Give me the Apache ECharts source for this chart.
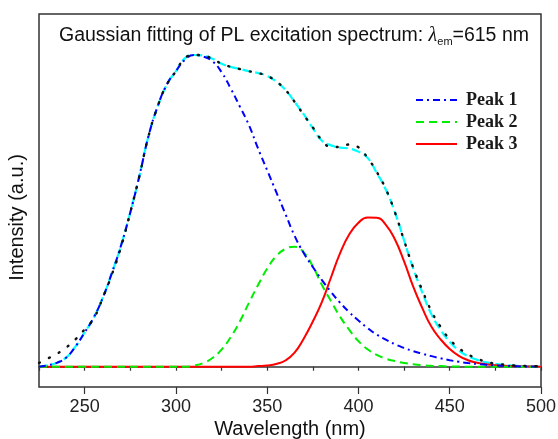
<!DOCTYPE html>
<html>
<head>
<meta charset="utf-8">
<script src="https://cdn.jsdelivr.net/npm/echarts@6/dist/echarts.min.js"></script>
<style>
html,body{margin:0;padding:0;background:#fff;}
#chart{width:558px;height:439px;}
</style>
</head>
<body>
<div id="chart"></div>
<script>
const wavelengths = [225,230,235,240,245,250,255,260,265,270,275,280,285,290,295,300,305,310,315,320,325,330,335,340,345,350,355,360,365,370,375,380,385,390,395,400,405,410,415,420,425,430,435,440,445,450,455,460,465,470,475,480,485,490,495,500];

const peak1 = [0.0,0.005,0.013,0.03,0.065,0.11,0.158,0.222,0.302,0.39,0.495,0.612,0.74,0.835,0.905,0.948,0.985,1.0,0.995,0.98,0.945,0.893,0.835,0.775,0.70,0.63,0.56,0.49,0.42,0.365,0.32,0.278,0.24,0.205,0.175,0.148,0.124,0.103,0.087,0.072,0.06,0.05,0.042,0.034,0.027,0.021,0.016,0.012,0.009,0.006,0.004,0.003,0.002,0.001,0.001,0.0];

const peak2 = [0,0,0,0,0,0,0,0,0,0,0,0,0,0,0,0,0,0.004,0.012,0.028,0.055,0.095,0.145,0.205,0.262,0.315,0.355,0.378,0.385,0.367,0.322,0.262,0.21,0.16,0.118,0.082,0.056,0.038,0.026,0.018,0.012,0.008,0.005,0.003,0.002,0.001,0.001,0,0,0,0,0,0,0,0,0];

const peak3 = [0,0,0,0,0,0,0,0,0,0,0,0,0,0,0,0,0,0,0,0,0,0,0,0,0.002,0.004,0.009,0.02,0.045,0.09,0.145,0.208,0.287,0.365,0.425,0.462,0.479,0.478,0.455,0.408,0.338,0.257,0.188,0.128,0.088,0.057,0.035,0.021,0.013,0.008,0.005,0.003,0.002,0.001,0.001,0];

const fitSum = [0.0,0.005,0.013,0.03,0.065,0.11,0.158,0.222,0.302,0.39,0.495,0.612,0.74,0.835,0.905,0.948,0.99,1.0,0.998,0.988,0.972,0.962,0.955,0.948,0.942,0.933,0.915,0.888,0.85,0.81,0.765,0.725,0.71,0.703,0.7,0.69,0.67,0.622,0.568,0.495,0.405,0.315,0.238,0.168,0.118,0.08,0.052,0.034,0.022,0.014,0.009,0.006,0.004,0.002,0.001,0.0];

const expData = [0.012,0.027,0.042,0.062,0.088,0.12,0.155,0.222,0.297,0.385,0.495,0.612,0.74,0.835,0.905,0.948,0.99,1.0,0.998,0.988,0.972,0.962,0.955,0.948,0.942,0.933,0.915,0.888,0.85,0.808,0.768,0.727,0.705,0.705,0.713,0.704,0.67,0.625,0.57,0.495,0.405,0.318,0.245,0.178,0.128,0.088,0.06,0.04,0.026,0.016,0.01,0.007,0.004,0.003,0.002,0.001];

const xTickLabels = ['225','250','275','300','325','350','375','400','425','450','475','500'];
const legendNames = ['Peak 1','Peak 2','Peak 3'];

function pairs(vals){ return wavelengths.map((w,i)=>[w, vals[i]]); }

const chart = echarts.init(document.getElementById('chart'), null, {renderer:'canvas'});
const option = {
  animation: false,
  backgroundColor: '#ffffff',
  title: {
    text: 'Gaussian fitting of PL excitation spectrum: {l|λ}{s|em}=615 nm',
    left: 54, top: 20,
    textStyle: {
      fontFamily: 'Liberation Sans', fontSize: 19.5, fontWeight: 'normal', color: '#111', lineHeight: 22,
      rich: {
        l: {fontFamily: 'Liberation Serif', fontStyle: 'italic', fontSize: 20, lineHeight: 22, color: '#111'},
        s: {fontFamily: 'Liberation Sans', fontSize: 11, lineHeight: 11, verticalAlign: 'bottom', color: '#111'}
      }
    }
  },
  legend: {
    data: legendNames,
    orient: 'vertical',
    left: 415, top: 91, padding: 0,
    itemWidth: 41, itemHeight: 14, itemGap: 4,
    itemStyle: {opacity: 0},
    textStyle: {fontFamily: 'Liberation Serif', fontWeight: 'bold', fontSize: 18, color: '#1a1a1a', padding: [0,0,0,4]}
  },
  grid: {left: 39, right: 17, top: 14, bottom: 52, show: true, borderColor: '#333', borderWidth: 1.5,
         backgroundColor: 'transparent', outerBoundsMode: 'none', containLabel: false},
  xAxis: [
    {
      type: 'value', min: 225, max: 500, interval: 25,
      axisLine: {show: true, lineStyle: {color: '#333', width: 1.5}},
      axisTick: {show: true, length: 4, lineStyle: {color: '#333', width: 1.2}},
      axisLabel: {show: false},
      splitLine: {show: false},
      name: 'Wavelength (nm)', nameLocation: 'middle', nameGap: 32,
      nameTextStyle: {fontFamily: 'Liberation Sans', fontSize: 20, color: '#111'}
    },
    {
      type: 'category', data: xTickLabels, boundaryGap: false, position: 'bottom',
      axisLine: {show: false},
      axisTick: {show: true, length: 7, interval: (i) => i % 2 === 1, lineStyle: {color: '#333', width: 1.2}},
      axisLabel: {interval: (i) => i % 2 === 1, fontFamily: 'Liberation Sans', fontSize: 18, color: '#222', margin: 11},
      splitLine: {show: false}
    }
  ],
  yAxis: {
    type: 'value', min: -0.065, max: 1.1315,
    axisLine: {show: false}, axisTick: {show: false}, axisLabel: {show: false}, splitLine: {show: false},
    name: 'Intensity (a.u.)', nameLocation: 'middle', nameGap: 12,
    nameTextStyle: {fontFamily: 'Liberation Sans', fontSize: 20, color: '#111', padding: [0, 34, 0, 0]}
  },
  series: [
    {name: 'Fit', type: 'line', data: pairs(fitSum), symbol: 'none', smooth: true, z: 2,
     itemStyle: {color: '#00ffff'},
     lineStyle: {color: '#00ffff', width: 2.2, type: [9, 4]}},
    {name: 'Peak 3', type: 'line', data: pairs(peak3), symbol: 'none', smooth: true, z: 3,
     itemStyle: {color: '#ff0000'},
     lineStyle: {color: '#ff0000', width: 2, type: 'solid'}},
    {name: 'Peak 2', type: 'line', data: pairs(peak2), symbol: 'none', smooth: true, z: 3,
     itemStyle: {color: '#00ee00'},
     lineStyle: {color: '#00ee00', width: 2, type: [8, 5]}},
    {name: 'Peak 1', type: 'line', data: pairs(peak1), symbol: 'none', smooth: true, z: 4,
     itemStyle: {color: '#0000ff'},
     lineStyle: {color: '#0000ff', width: 2, type: [7, 4, 2, 4]}},
    {name: 'Experiment', type: 'line', data: pairs(expData), symbol: 'none', smooth: true, z: 5,
     itemStyle: {color: '#111'},
     lineStyle: {color: '#111', width: 2.4, type: [1, 10], cap: 'round'}}
  ]
};
chart.setOption(option);
</script>
</body>
</html>
